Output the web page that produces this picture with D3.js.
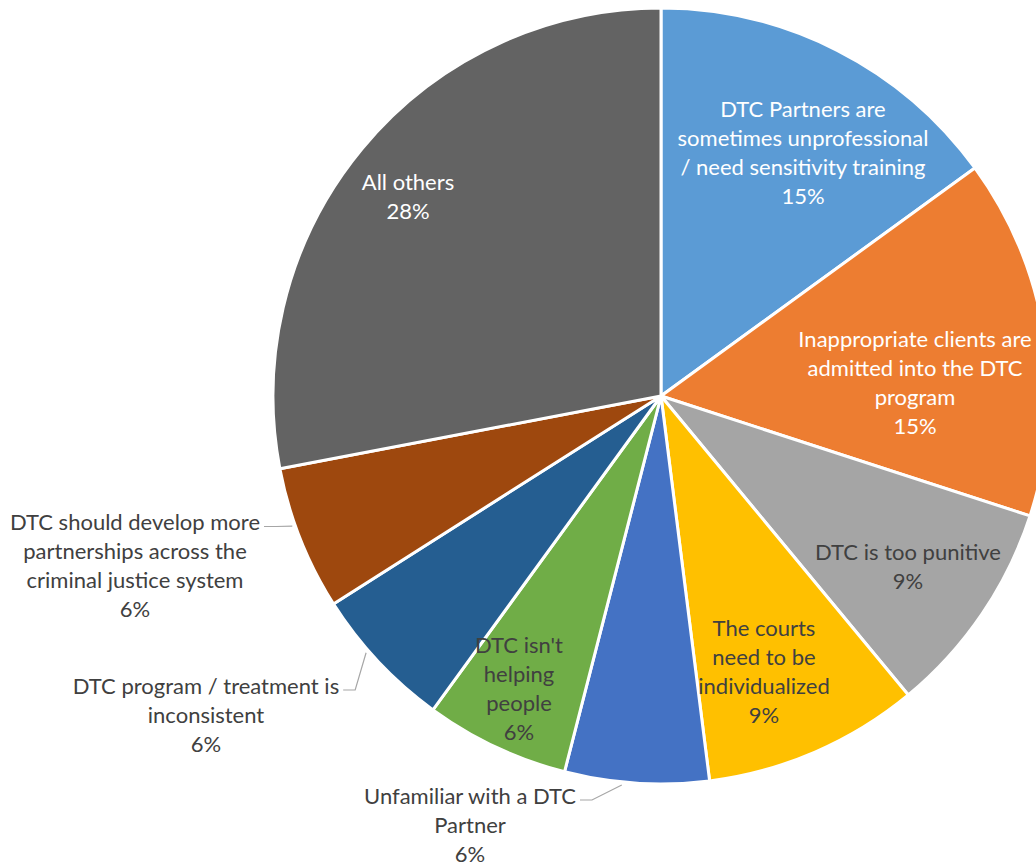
<!DOCTYPE html>
<html>
<head>
<meta charset="utf-8">
<script src="https://cdn.jsdelivr.net/npm/d3@7"></script>
<style>
  html, body { margin: 0; padding: 0; background: #ffffff; }
  svg { display: block; }
  text { font-family: Lato, "Liberation Sans", sans-serif; }
</style>
</head>
<body>
<svg id="chart" width="1036" height="865"></svg>
<script>
// Survey responses: concerns raised about the DTC program
const categories = [
  "DTC Partners are\nsometimes unprofessional\n/ need sensitivity training",
  "Inappropriate clients are\nadmitted into the DTC\nprogram",
  "DTC is too punitive",
  "The courts\nneed to be\nindividualized",
  "Unfamiliar with a DTC\nPartner",
  "DTC isn't\nhelping\npeople",
  "DTC program / treatment is\ninconsistent",
  "DTC should develop more\npartnerships across the\ncriminal justice system",
  "All others"
];
const values = [15, 15, 9, 9, 6, 6, 6, 6, 28];
const colors = ["#5B9BD5", "#ED7D31", "#A5A5A5", "#FFC000", "#4472C4",
                "#70AD47", "#255E91", "#9E480E", "#636363"];

// Label placement relative to the pie centre (text block centre);
// "outside" labels get a leader line to the slice edge.
const labelLayout = [
  { dx: 142, dy: -244, fill: "#ffffff" },
  { dx: 254, dy: -14, fill: "#ffffff" },
  { dx: 247, dy: 170, fill: "#404040" },
  { dx: 103, dy: 275, fill: "#404040" },
  { dx: -191, dy: 428, fill: "#404040", outside: true },
  { dx: -142, dy: 292, fill: "#404040" },
  { dx: -455, dy: 318, fill: "#404040", outside: true },
  { dx: -526, dy: 169, fill: "#404040", outside: true },
  { dx: -253, dy: -200, fill: "#ffffff" }
];

const cx = 661, cy = 396, radius = 388;
const lineHeight = 29;
const fontSize = 22;

const svg = d3.select("#chart");
const g = svg.append("g").attr("transform", `translate(${cx},${cy})`);

const data = categories.map((c, i) => ({ name: c, value: values[i], i }));

const pie = d3.pie().sort(null).value(d => d.value)
  .startAngle(0).endAngle(2 * Math.PI);
const arcs = pie(data);

const arc = d3.arc().innerRadius(0).outerRadius(radius);

g.selectAll("path.slice")
  .data(arcs)
  .join("path")
  .attr("class", "slice")
  .attr("d", arc)
  .attr("fill", d => colors[d.data.i])
  .attr("stroke", "#ffffff")
  .attr("stroke-width", 3)
  .attr("stroke-linejoin", "round");

const labels = g.selectAll("g.label")
  .data(arcs)
  .join("g")
  .attr("class", "label");

labels.each(function (d) {
  const lay = labelLayout[d.data.i];
  const lines = d.data.name.split("\n").concat([d.data.value + "%"]);
  const n = lines.length;
  const t = d3.select(this).append("text")
    .attr("text-anchor", "middle")
    .attr("font-size", fontSize)
    .attr("fill", lay.fill);
  lines.forEach((ln, k) => {
    t.append("tspan")
      .attr("x", lay.dx)
      .attr("y", lay.dy + (k - (n - 1) / 2) * lineHeight)
      .attr("dominant-baseline", "central")
      .text(ln);
  });

  if (lay.outside) {
    // leader from the end of the first line to the slice edge
    const first = t.select("tspan").node();
    const w = first.getComputedTextLength();
    const y0 = lay.dy - (n - 1) / 2 * lineHeight + 5;
    const x0 = lay.dx + w / 2 + 4;
    const a = d.startAngle + (d.endAngle - d.startAngle) * 0.6;
    const rEdge = radius + 3;
    const ex = rEdge * Math.sin(a), ey = -rEdge * Math.cos(a);
    d3.select(this).append("path")
      .attr("d", d3.line()([[x0, y0], [x0 + 12, y0], [ex, ey]]))
      .attr("fill", "none")
      .attr("stroke", "#A6A6A6")
      .attr("stroke-width", 1.2);
  }
});
</script>
</body>
</html>
